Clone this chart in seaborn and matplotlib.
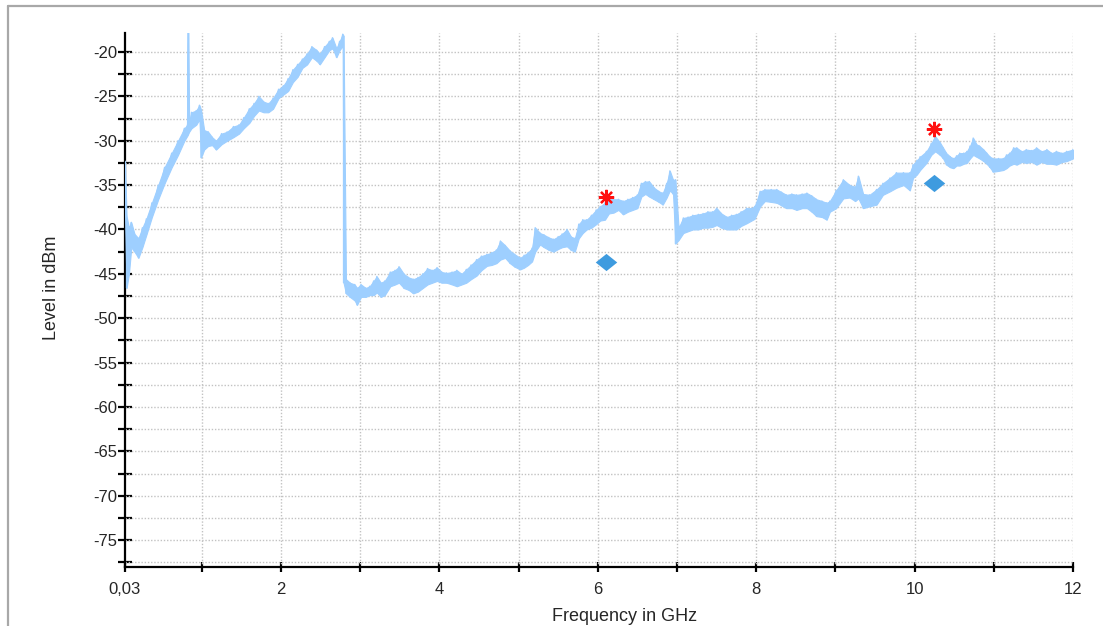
import numpy as np
import pandas as pd
import matplotlib
matplotlib.use("Agg")
import matplotlib.pyplot as plt
from matplotlib.lines import Line2D
from matplotlib.ticker import FixedLocator
import seaborn as sns

# ---------------- data ----------------
freq_ghz = [0.03, 0.05, 0.08, 0.11, 0.15, 0.20, 0.25, 0.30, 0.37, 0.45, 0.53, 0.62, 0.70, 0.78, 0.82,
            0.83, 0.84, 0.87, 0.93, 0.97, 0.99, 1.03, 1.08, 1.13, 1.18, 1.25, 1.32, 1.40, 1.47, 1.53,
            1.60, 1.66, 1.72, 1.78, 1.84, 1.90, 1.97, 2.03, 2.09, 2.15, 2.21, 2.27, 2.33, 2.39, 2.45,
            2.49, 2.55, 2.61, 2.65, 2.70, 2.74, 2.78, 2.79, 2.82, 2.87, 2.93, 2.96, 3.01, 3.07, 3.12,
            3.17, 3.21, 3.26, 3.31, 3.38, 3.44, 3.49, 3.55, 3.61, 3.67, 3.73, 3.79, 3.85, 3.91, 3.97,
            4.03, 4.09, 4.16, 4.22, 4.28, 4.34, 4.40, 4.47, 4.53, 4.60, 4.66, 4.72, 4.77, 4.83, 4.89,
            4.95, 5.02, 5.07, 5.12, 5.17, 5.21, 5.27, 5.32, 5.38, 5.44, 5.50, 5.55, 5.61, 5.66, 5.71,
            5.76, 5.81, 5.86, 5.92, 5.98, 6.03, 6.09, 6.14, 6.20, 6.26, 6.32, 6.38, 6.44, 6.50, 6.55,
            6.60, 6.65, 6.71, 6.77, 6.82, 6.87, 6.91, 6.95, 6.98, 7.02, 7.08, 7.14, 7.20, 7.27, 7.33,
            7.39, 7.45, 7.50, 7.56, 7.63, 7.69, 7.75, 7.81, 7.88, 7.94, 7.98, 8.05, 8.11, 8.19, 8.26,
            8.32, 8.38, 8.45, 8.51, 8.58, 8.64, 8.70, 8.76, 8.83, 8.89, 8.93, 9.01, 9.10, 9.18, 9.25,
            9.29, 9.35, 9.43, 9.52, 9.60, 9.69, 9.77, 9.86, 9.94, 9.98, 10.03, 10.07, 10.15, 10.21, 10.26,
            10.32, 10.36, 10.40, 10.45, 10.49, 10.53, 10.57, 10.62, 10.66, 10.70, 10.74, 10.78, 10.82, 10.87, 10.91,
            10.95, 10.99, 11.06, 11.12, 11.16, 11.20, 11.25, 11.29, 11.35, 11.41, 11.48, 11.54, 11.60, 11.67, 11.73,
            11.79, 11.86, 11.92, 12.00]

level_hi = [-32.3, -38.5, -39.8, -39.2, -40.5, -41.0, -39.8, -38.8, -37.0, -35.0, -33.0, -31.4, -30.0, -28.6, -28.2,
            -17.0, -28.0, -26.8, -26.6, -26.0, -26.5, -28.8, -29.0, -29.6, -30.0, -29.2, -29.0, -28.4, -28.2, -27.4,
            -26.4, -25.8, -25.0, -25.6, -25.8, -25.2, -24.2, -23.8, -23.0, -22.0, -21.4, -20.8, -20.2, -19.4, -19.8,
            -20.2, -19.4, -18.8, -18.4, -19.6, -18.8, -18.0, -18.2, -45.6, -46.0, -46.2, -46.6, -46.2, -46.6, -46.4,
            -45.8, -45.3, -46.0, -45.8, -44.8, -44.6, -44.2, -45.0, -45.4, -45.6, -45.4, -45.0, -44.4, -44.6, -44.3,
            -44.8, -44.9, -44.8, -44.6, -45.0, -44.5, -44.0, -43.4, -43.0, -42.8, -42.6, -42.3, -41.3, -41.8, -42.4,
            -42.8, -43.2, -42.9, -42.6, -42.1, -39.8, -40.4, -40.6, -40.9, -41.1, -40.8, -40.5, -40.0, -40.8, -41.0,
            -39.4, -38.9, -38.9, -38.4, -37.8, -37.4, -37.0, -36.4, -36.6, -36.6, -36.8, -36.6, -36.4, -36.1, -34.8,
            -34.6, -34.6, -35.3, -35.7, -35.9, -34.8, -33.4, -34.4, -34.4, -39.8, -38.7, -38.6, -38.4, -38.3, -38.2,
            -38.0, -38.0, -37.6, -38.2, -38.6, -38.4, -38.3, -38.0, -37.6, -37.6, -37.4, -35.7, -35.5, -35.5, -35.5,
            -35.8, -36.1, -36.0, -36.1, -36.0, -35.9, -36.2, -36.6, -36.8, -37.0, -36.8, -35.6, -34.4, -35.0, -35.2,
            -34.0, -36.0, -36.1, -35.5, -34.8, -34.2, -33.6, -33.6, -33.6, -32.7, -32.2, -31.8, -31.2, -30.3, -29.5,
            -30.2, -30.8, -31.4, -31.8, -32.0, -31.7, -31.4, -31.4, -31.2, -30.6, -29.7, -30.4, -30.6, -31.0, -31.4,
            -31.8, -32.0, -32.0, -32.0, -31.6, -31.4, -30.8, -30.8, -31.2, -31.0, -31.1, -30.8, -31.2, -31.0, -31.4,
            -31.2, -31.4, -31.2, -31.0]

level_lo = [-38.0, -46.6, -45.0, -42.0, -42.5, -43.2, -42.0, -40.6, -38.6, -36.6, -34.8, -33.0, -31.6, -30.0, -29.4,
            -29.2, -29.0, -28.6, -28.2, -27.6, -31.9, -31.0, -30.6, -30.5, -31.0, -30.4, -30.0, -29.6, -29.2, -28.6,
            -28.0, -27.2, -26.6, -26.8, -26.8, -26.4, -25.2, -24.8, -24.4, -23.4, -22.8, -21.8, -21.4, -20.6, -21.0,
            -21.4, -20.6, -19.8, -19.6, -20.6, -19.8, -19.3, -46.0, -47.2, -47.6, -48.0, -48.5, -47.6, -47.6, -47.4,
            -47.4, -47.1, -47.6, -47.4, -46.4, -46.2, -46.0, -46.6, -46.8, -47.2, -47.0, -46.6, -46.2, -46.0, -45.8,
            -46.0, -46.0, -46.2, -46.4, -46.2, -46.0, -45.6, -45.2, -44.6, -44.1, -44.0, -43.8, -43.4, -43.2, -43.8,
            -44.2, -44.5, -44.3, -44.0, -43.6, -42.5, -41.7, -42.0, -42.3, -42.5, -42.2, -42.0, -41.9, -42.3, -42.5,
            -41.0, -40.4, -40.0, -39.8, -39.4, -39.0, -38.9, -38.2, -38.1, -37.8, -38.3, -38.0, -37.8, -37.6, -36.3,
            -36.0, -36.3, -36.6, -36.9, -37.2, -36.4, -35.6, -36.0, -41.6, -41.2, -40.4, -40.2, -40.0, -40.0, -39.8,
            -39.8, -39.7, -39.5, -39.8, -40.0, -40.0, -40.0, -39.6, -39.3, -39.0, -38.8, -37.4, -36.8, -36.9, -37.0,
            -37.3, -37.6, -37.6, -37.8, -37.6, -37.6, -38.0, -38.5, -38.6, -38.9, -38.0, -37.6, -36.5, -36.4, -36.8,
            -36.5, -37.6, -37.4, -37.2, -36.1, -35.7, -35.3, -35.0, -35.6, -34.2, -33.8, -33.3, -32.5, -31.6, -31.2,
            -31.6, -32.0, -32.7, -33.0, -33.1, -32.8, -32.8, -32.6, -32.5, -32.0, -31.6, -31.8, -32.0, -32.3, -32.6,
            -33.0, -33.5, -33.4, -33.3, -33.1, -32.8, -32.6, -32.7, -32.4, -32.5, -32.4, -32.7, -32.4, -32.6, -32.6,
            -32.7, -32.4, -32.3, -32.0]

peak_freq = [6.10, 10.25]
peak_level = [-36.3, -28.7]
limit_freq = [6.10, 10.25]
limit_level = [-43.7, -34.8]

x_tick_values = [0.03, 1, 2, 3, 4, 5, 6, 7, 8, 9, 10, 11, 12]
x_tick_labels = ["0,03", "", "2", "", "4", "", "6", "", "8", "", "10", "", "12"]
y_tick_values = [-75, -70, -65, -60, -55, -50, -45, -40, -35, -30, -25, -20]
y_tick_labels = ["-75", "-70", "-65", "-60", "-55", "-50", "-45", "-40", "-35", "-30", "-25", "-20"]
y_minor_values = [-77.5, -72.5, -67.5, -62.5, -57.5, -52.5, -47.5, -42.5, -37.5, -32.5, -27.5, -22.5]

# ---------------- style ----------------
sns.set_style("white")
plt.rcParams["font.family"] = ["Liberation Sans", "DejaVu Sans"]

TRACE = "#9ECFFF"
DIAMOND = "#3E9BDF"

fig = plt.figure(figsize=(11.03, 6.26), dpi=100)
ax = fig.add_axes([0.1133, 0.0947, 0.8595, 0.8521])

# zig-zag trace between read upper / lower envelope
trace_x, trace_y = [], []
for f, h, l in zip(freq_ghz, level_hi, level_lo):
    trace_x += [f, f]
    trace_y += [h, l]
trace = pd.DataFrame({"Frequency": trace_x, "Level": trace_y})

ax.fill_between(freq_ghz, level_lo, level_hi, color=TRACE, lw=0.8, zorder=3)
sns.lineplot(data=trace, x="Frequency", y="Level", sort=False, estimator=None,
             color=TRACE, lw=1.0, ax=ax, zorder=3)

diamond = [(-1, 0), (0, 0.8), (1, 0), (0, -0.8), (-1, 0)]
sns.scatterplot(x=limit_freq, y=limit_level, marker=diamond, s=240, color=DIAMOND,
                edgecolor=DIAMOND, linewidth=0, ax=ax, zorder=5)
ax.plot(peak_freq, peak_level, linestyle="none", marker=(8, 2, 0), markersize=11,
        markeredgewidth=1.6, color="#FF1010", zorder=6)

# axes
ax.set_xlim(0.03, 12)
ax.set_ylim(-78.0, -17.9)
ax.xaxis.set_major_locator(FixedLocator(x_tick_values))
ax.set_xticklabels(x_tick_labels)
ax.yaxis.set_major_locator(FixedLocator(y_tick_values))
ax.set_yticklabels(y_tick_labels)
ax.yaxis.set_minor_locator(FixedLocator(y_minor_values))

for s in ["top", "right"]:
    ax.spines[s].set_visible(False)
for s in ["left", "bottom"]:
    ax.spines[s].set_color("black")
    ax.spines[s].set_linewidth(1.6)

ax.tick_params(axis="y", which="both", left=True, direction="inout", length=9.5, width=1.6,
               color="black", labelsize=12, pad=0.5)
ax.tick_params(axis="x", which="major", bottom=True, direction="inout", length=6.5, width=1.6,
               color="black", labelsize=12, pad=8)
ax.tick_params(axis="y", which="minor", labelleft=False)

# dotted grid
grid_kw = dict(color="#C2C2C2", linestyle=(0, (1.0, 1.3)), linewidth=1.0, zorder=1)
for v in y_tick_values + y_minor_values:
    ax.axhline(v, **grid_kw)
for v in x_tick_values[1:]:
    ax.axvline(v, **grid_kw)

ax.set_xlabel("Frequency in GHz", fontsize=13)
ax.set_ylabel("Level in dBm", fontsize=13)
ax.xaxis.set_label_coords(0.527, -0.078)
ax.yaxis.set_label_coords(-0.069, 0.522)

# outer light frame
fig.add_artist(Line2D([0.0072, 1.0], [0.9904, 0.9904], transform=fig.transFigure,
                      color="#A8A8A8", lw=1.6))
fig.add_artist(Line2D([0.0072, 0.0072], [0.0, 0.9904], transform=fig.transFigure,
                      color="#A8A8A8", lw=1.6))

fig.savefig("out.png", dpi=100)
